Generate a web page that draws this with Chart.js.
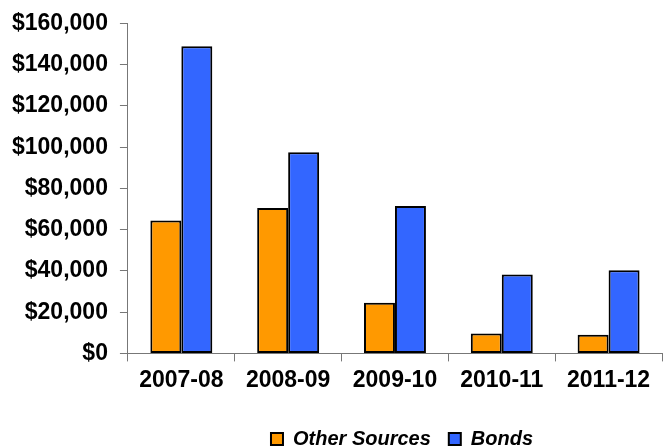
<!DOCTYPE html>
<html>
<head>
<meta charset="utf-8">
<script src="https://cdn.jsdelivr.net/npm/chart.js@4/dist/chart.umd.min.js"></script>
<style>
  html, body { margin: 0; padding: 0; background: #fff; }
  #wrap { width: 666px; height: 447px; }
</style>
</head>
<body>
<div id="wrap"><canvas id="barChart"></canvas></div>
<script>
const years = ["2007-08", "2008-09", "2009-10", "2010-11", "2011-12"];
const otherSources = [64500, 70500, 24600, 9700, 9000];
const bonds = [149000, 97600, 71500, 38300, 40300];

const fontFamily = "'Liberation Sans', Arial, sans-serif";
const axisColor = "#777";

// nudge the legend right and down, like the original
const legendShift = {
    id: "legendShift",
    afterLayout(chart) {
        chart.legend.left += 71;
        chart.legend.right += 71;
        chart.legend.top += 12;
        chart.legend.bottom += 12;
    }
};

new Chart(document.getElementById("barChart"), {
    type: "bar",
    data: {
        labels: years,
        datasets: [{
            label: "Other Sources",
            data: otherSources,
            backgroundColor: "#FF9900",
            borderColor: "#000",
            borderWidth: 2,
            borderSkipped: false
        }, {
            label: "Bonds",
            data: bonds,
            backgroundColor: "#3366FF",
            borderColor: "#000",
            borderWidth: 2,
            borderSkipped: false
        }]
    },
    options: {
        responsive: true,
        maintainAspectRatio: false,
        animation: false,
        layout: { padding: { left: 0, top: 6, right: 4, bottom: 0 } },
        datasets: { bar: { categoryPercentage: 0.58, barPercentage: 1.0 } },
        plugins: {
            tooltip: { enabled: false },
            legend: {
                position: "bottom",
                labels: {
                    color: "#000",
                    boxWidth: 12,
                    boxHeight: 12,
                    padding: 18,
                    font: { family: fontFamily, size: 20, weight: "bold", style: "italic" }
                }
            }
        },
        scales: {
            x: {
                offset: true,
                grid: { offset: true, drawOnChartArea: false, drawTicks: true, tickLength: 8, color: axisColor },
                border: { display: true, color: axisColor, width: 1 },
                ticks: {
                    color: "#000",
                    padding: 5,
                    font: { family: fontFamily, size: 23, weight: "bold" }
                }
            },
            y: {
                min: 0,
                max: 160000,
                grid: { drawOnChartArea: false, drawTicks: true, tickLength: 8, color: axisColor },
                border: { display: true, color: axisColor, width: 1 },
                ticks: {
                    stepSize: 20000,
                    color: "#000",
                    padding: 12,
                    font: { family: fontFamily, size: 23, weight: "bold", lineHeight: 1 },
                    callback: v => "$" + v.toLocaleString("en-US")
                }
            }
        }
    },
    plugins: [legendShift]
});
</script>
</body>
</html>
